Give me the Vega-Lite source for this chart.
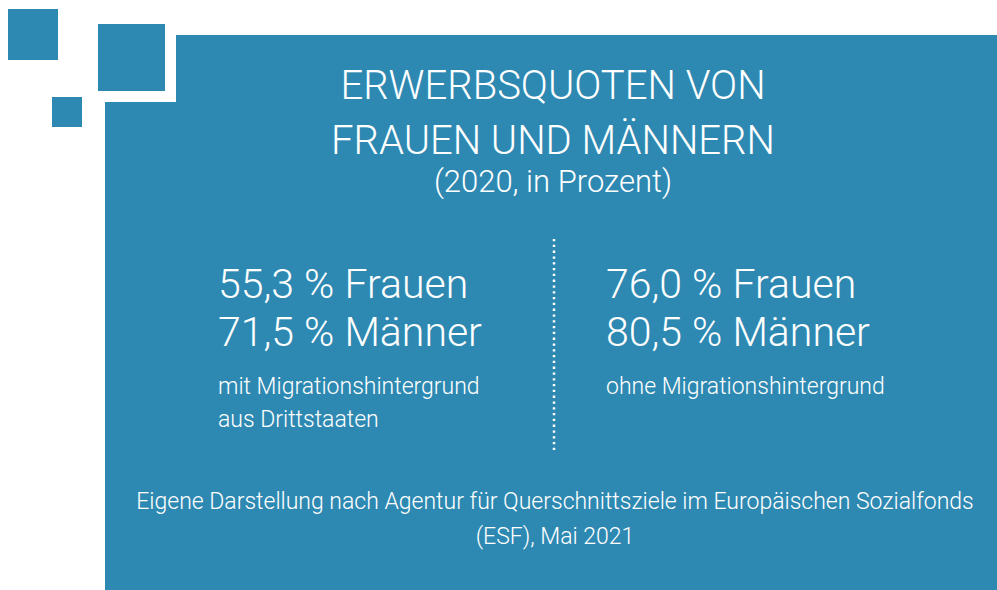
{
  "$schema": "https://vega.github.io/schema/vega-lite/v6.json",
  "width": 997,
  "height": 590,
  "autosize": {"type": "none"},
  "padding": 0,
  "background": "#ffffff",
  "config": {
    "view": {"stroke": null},
    "font": "Roboto",
    "text": {"font": "Roboto", "fontWeight": 300, "color": "#ffffff"}
  },
  "datasets": {
    "quoten": [
      {"gruppe": "mit Migrationshintergrund aus Drittstaaten", "geschlecht": "Frauen", "quote": 55.3, "beschreibung": "mit Migrationshintergrund\naus Drittstaaten"},
      {"gruppe": "mit Migrationshintergrund aus Drittstaaten", "geschlecht": "Männer", "quote": 71.5, "beschreibung": "mit Migrationshintergrund\naus Drittstaaten"},
      {"gruppe": "ohne Migrationshintergrund", "geschlecht": "Frauen", "quote": 76.0, "beschreibung": "ohne Migrationshintergrund"},
      {"gruppe": "ohne Migrationshintergrund", "geschlecht": "Männer", "quote": 80.5, "beschreibung": "ohne Migrationshintergrund"}
    ],
    "eins": [{"element": "Gestaltung"}]
  },
  "layer": [
    {
      "data": {"name": "eins"},
      "mark": {"type": "rect", "color": "#2e89b2"},
      "encoding": {
        "x": {"datum": 105, "type": "quantitative", "scale": {"domain": [0, 997], "nice": false, "zero": false}, "axis": null},
        "x2": {"datum": 997},
        "y": {"datum": 35, "type": "quantitative", "scale": {"domain": [0, 590], "nice": false, "zero": false, "reverse": true}, "axis": null},
        "y2": {"datum": 590}
      }
    },
    {
      "data": {"name": "eins"},
      "mark": {"type": "rect", "color": "#ffffff"},
      "encoding": {
        "x": {"datum": 87, "type": "quantitative", "scale": {"domain": [0, 997], "nice": false, "zero": false}, "axis": null},
        "x2": {"datum": 176},
        "y": {"datum": 13, "type": "quantitative", "scale": {"domain": [0, 590], "nice": false, "zero": false, "reverse": true}, "axis": null},
        "y2": {"datum": 102}
      }
    },
    {
      "data": {"name": "eins"},
      "mark": {"type": "rect", "color": "#2e89b2"},
      "encoding": {
        "x": {"datum": 98, "type": "quantitative", "scale": {"domain": [0, 997], "nice": false, "zero": false}, "axis": null},
        "x2": {"datum": 165},
        "y": {"datum": 24, "type": "quantitative", "scale": {"domain": [0, 590], "nice": false, "zero": false, "reverse": true}, "axis": null},
        "y2": {"datum": 91}
      }
    },
    {
      "data": {"name": "eins"},
      "mark": {"type": "rect", "color": "#2e89b2"},
      "encoding": {
        "x": {"datum": 8, "type": "quantitative", "scale": {"domain": [0, 997], "nice": false, "zero": false}, "axis": null},
        "x2": {"datum": 58},
        "y": {"datum": 9, "type": "quantitative", "scale": {"domain": [0, 590], "nice": false, "zero": false, "reverse": true}, "axis": null},
        "y2": {"datum": 60}
      }
    },
    {
      "data": {"name": "eins"},
      "mark": {"type": "rect", "color": "#2e89b2"},
      "encoding": {
        "x": {"datum": 52, "type": "quantitative", "scale": {"domain": [0, 997], "nice": false, "zero": false}, "axis": null},
        "x2": {"datum": 82},
        "y": {"datum": 97, "type": "quantitative", "scale": {"domain": [0, 590], "nice": false, "zero": false, "reverse": true}, "axis": null},
        "y2": {"datum": 127}
      }
    },
    {
      "data": {"name": "eins"},
      "mark": {"type": "rule", "color": "#ffffff", "strokeWidth": 2.5, "strokeDash": [2.3, 3.5]},
      "encoding": {
        "x": {"datum": 554, "type": "quantitative", "scale": {"domain": [0, 997], "nice": false, "zero": false}, "axis": null},
        "y": {"datum": 239, "type": "quantitative", "scale": {"domain": [0, 590], "nice": false, "zero": false, "reverse": true}, "axis": null},
        "y2": {"datum": 452}
      }
    },
    {
      "data": {"name": "eins"},
      "mark": {"type": "text", "align": "center", "baseline": "alphabetic", "fontSize": 40, "lineHeight": 55, "text": ["ERWERBSQUOTEN VON", "FRAUEN UND MÄNNERN"]},
      "encoding": {
        "x": {"datum": 553, "type": "quantitative", "scale": {"domain": [0, 997], "nice": false, "zero": false}, "axis": null},
        "y": {"datum": 99, "type": "quantitative", "scale": {"domain": [0, 590], "nice": false, "zero": false, "reverse": true}, "axis": null}
      }
    },
    {
      "data": {"name": "eins"},
      "mark": {"type": "text", "align": "center", "baseline": "alphabetic", "fontSize": 31, "text": "(2020, in Prozent)"},
      "encoding": {
        "x": {"datum": 553, "type": "quantitative", "scale": {"domain": [0, 997], "nice": false, "zero": false}, "axis": null},
        "y": {"datum": 192, "type": "quantitative", "scale": {"domain": [0, 590], "nice": false, "zero": false, "reverse": true}, "axis": null}
      }
    },
    {
      "data": {"name": "eins"},
      "mark": {"type": "text", "align": "center", "baseline": "alphabetic", "fontSize": 23, "lineHeight": 35, "text": ["Eigene Darstellung nach Agentur für Querschnittsziele im Europäischen Sozialfonds", "(ESF), Mai 2021"]},
      "encoding": {
        "x": {"datum": 555, "type": "quantitative", "scale": {"domain": [0, 997], "nice": false, "zero": false}, "axis": null},
        "y": {"datum": 509, "type": "quantitative", "scale": {"domain": [0, 590], "nice": false, "zero": false, "reverse": true}, "axis": null}
      }
    },
    {
      "data": {"name": "quoten"},
      "transform": [
        {"calculate": "replace(format(datum.quote, '.1f'), '.', ',') + ' % ' + datum.geschlecht", "as": "label"}
      ],
      "mark": {"type": "text", "align": "left", "baseline": "alphabetic", "fontSize": 41},
      "encoding": {
        "x": {"field": "gruppe", "type": "nominal", "scale": {"type": "point", "domain": ["mit Migrationshintergrund aus Drittstaaten", "ohne Migrationshintergrund"], "range": [218, 606], "padding": 0}, "axis": null},
        "y": {"field": "geschlecht", "type": "nominal", "scale": {"type": "point", "domain": ["Frauen", "Männer", "Beschreibung"], "range": [298, 394], "padding": 0}, "axis": null},
        "text": {"field": "label"}
      }
    },
    {
      "data": {"name": "quoten"},
      "transform": [{"filter": "datum.geschlecht === 'Frauen'"}],
      "mark": {"type": "text", "align": "left", "baseline": "alphabetic", "fontSize": 23, "lineHeight": 33, "lineBreak": "\n"},
      "encoding": {
        "x": {"field": "gruppe", "type": "nominal", "scale": {"type": "point", "domain": ["mit Migrationshintergrund aus Drittstaaten", "ohne Migrationshintergrund"], "range": [218, 606], "padding": 0}, "axis": null},
        "y": {"datum": "Beschreibung", "type": "nominal", "scale": {"type": "point", "domain": ["Frauen", "Männer", "Beschreibung"], "range": [298, 394], "padding": 0}, "axis": null},
        "text": {"field": "beschreibung"}
      }
    }
  ],
  "resolve": {"scale": {"x": "independent", "y": "independent"}}
}
